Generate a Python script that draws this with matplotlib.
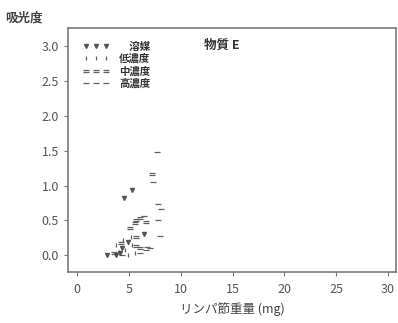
import matplotlib
matplotlib.use("Agg")
import matplotlib.pyplot as plt

plt.rcParams["font.family"] = ["Noto Sans CJK JP", "DejaVu Sans"]

# lymph node weight (mg) vs absorbance, per dose group
vehicle_x = [4.5, 5.3, 6.4, 2.9, 4.3, 4.9, 3.7, 4.1]
vehicle_y = [0.82, 0.94, 0.30, 0.00, 0.10, 0.19, 0.00, 0.03]
low_x = [5.2, 4.4, 3.7, 4.6, 4.9, 5.6, 5.3, 4.0]
low_y = [0.26, 0.22, 0.14, 0.07, 0.01, 0.03, 0.14, 0.05]
mid_x = [7.2, 6.1, 5.7, 5.6, 6.6, 5.1, 5.7, 4.2, 5.7, 6.1, 3.5]
mid_y = [1.16, 0.54, 0.50, 0.46, 0.47, 0.39, 0.26, 0.17, 0.13, 0.10, 0.03]
high_x = [7.7, 7.35, 7.8, 8.1, 6.4, 7.8, 8.0, 6.7, 7.0, 6.1, 6.6, 4.3]
high_y = [1.48, 1.05, 0.73, 0.67, 0.57, 0.50, 0.27, 0.12, 0.11, 0.03, 0.07, 0.00]

group_labels = ["\u3000溶媒", "低濃度", "中濃度", "高濃度"]
x_ticks = [0, 5, 10, 15, 20, 25, 30]
y_ticks = [0.0, 0.5, 1.0, 1.5, 2.0, 2.5, 3.0]

ink = "#444444"
frame = "#7a7a7a"

fig = plt.figure(figsize=(3.98, 3.23), dpi=100)
ax = fig.add_axes([0.171, 0.158, 0.824, 0.755])

groups = [
    (vehicle_x, vehicle_y, "v", 3.0),
    (low_x, low_y, "|", 3.5),
    (mid_x, mid_y, "$=$", 4.0),
    (high_x, high_y, "_", 5.0),
]
for (xs, ys, marker, size), label in zip(groups, group_labels):
    ax.plot(xs, ys, linestyle="none", marker=marker, markersize=size,
            color=ink, markeredgewidth=0.9, alpha=0.85, label=label)

ax.set_xlim(-0.9, 30.8)
ax.set_ylim(-0.24, 3.26)
ax.set_xticks(x_ticks)
ax.set_yticks(y_ticks)
ax.set_yticklabels(["%.1f" % v for v in y_ticks])

for side in ax.spines.values():
    side.set_color(frame)
    side.set_linewidth(1.2)
ax.tick_params(colors=frame, labelcolor="#555555", labelsize=9,
               length=3, width=0.8)
ax.tick_params(axis="x", pad=5)

ax.set_xlabel("リンパ節重量 (mg)", fontsize=9, color="#444444", labelpad=4)
fig.text(0.012, 0.945, "吸光度", fontsize=9, color="#444444",
         fontweight="bold", ha="left", va="center")
ax.text(0.47, 0.93, "物質 E", transform=ax.transAxes, fontsize=9,
        color="#333333", fontweight="bold", ha="center", va="center")

leg = ax.legend(loc="upper left", bbox_to_anchor=(0.025, 0.97), frameon=False,
                numpoints=3, handlelength=2.6, handletextpad=0.9,
                labelspacing=0.2, fontsize=7.5, borderaxespad=0.2)
for txt in leg.get_texts():
    txt.set_color("#333333")
    txt.set_fontweight("bold")

fig.savefig("out.png", dpi=100)
